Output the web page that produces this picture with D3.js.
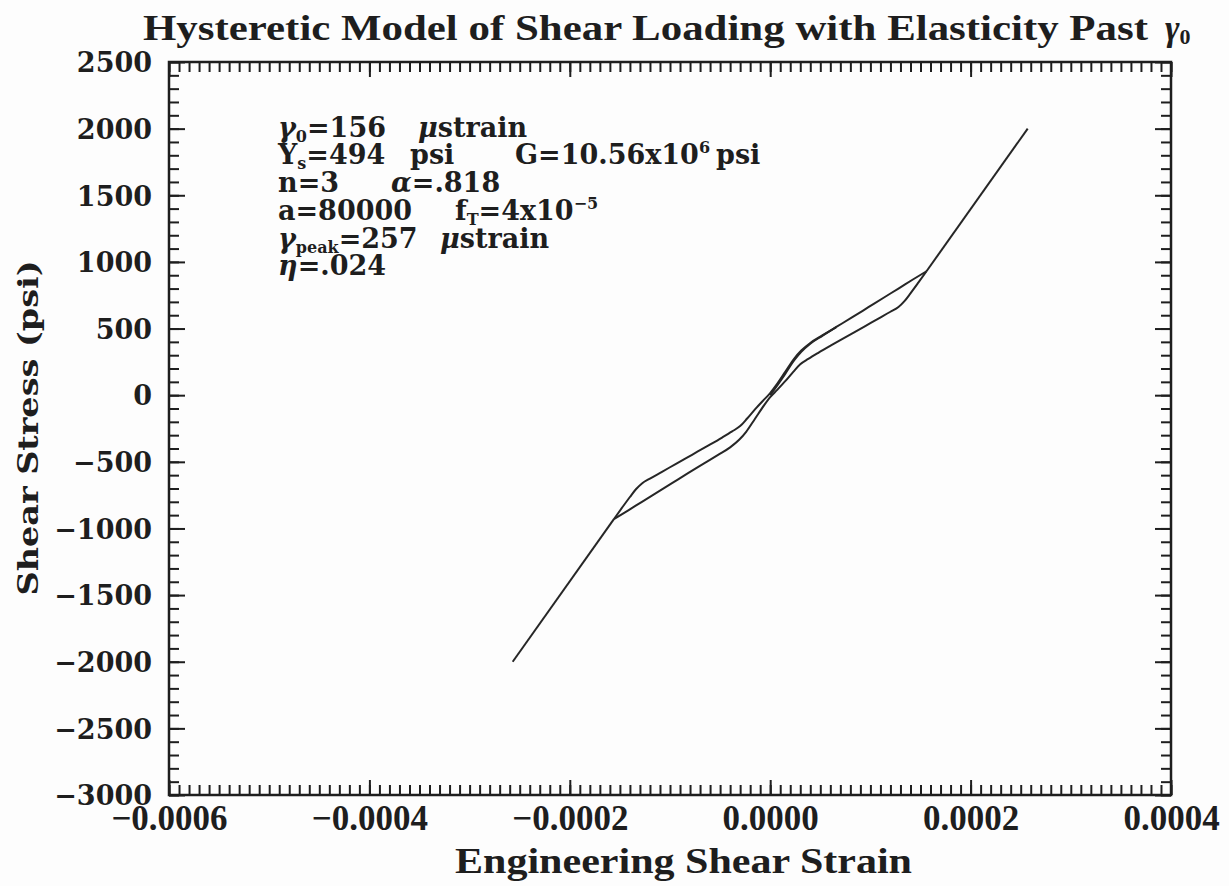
<!DOCTYPE html>
<html>
<head>
<meta charset="utf-8">
<script src="https://cdn.jsdelivr.net/npm/d3@7"></script>
<style>
body { margin: 0; background: #fff; }
svg { display: block; }
.num { font-family: "DejaVu Serif", serif; font-weight: bold; font-size: 27px; fill: #1e1e1e; }
.cond { font-family: "Liberation Serif", "Times New Roman", serif; font-weight: bold; font-size: 35px; fill: #1e1e1e; }
.axis path.domain { display: none; }
.axis line { stroke: #1e1e1e; stroke-width: 2; }
</style>
</head>
<body>
<div id="chart"></div>
<script>
// tick labels
var strainTicks = [-0.0006, -0.0004, -0.0002, 0, 0.0002, 0.0004];
var stressTicks = [2500, 2000, 1500, 1000, 500, 0, -500, -1000, -1500, -2000, -2500, -3000];

// curve, strain in microstrain, stress in psi
var lowerTail = [[-257, -2000], [-156, -930]];
var upperTail = [[156, 930], [257, 2000]];

// reloading branch, -gamma0 -> +gamma0
var loadingBranch = [
	[-156, -930], [-148, -846], [-140, -764], [-134, -706], [-128, -662], [-120, -626],
	[-108, -575], [-94, -515], [-78, -447], [-62, -379], [-48, -318], [-38, -272],
	[-30, -232], [-23, -175], [-15, -105], [-7, -40], [0, 15], [6, 75], [15, 175],
	[24, 275], [31, 335], [40, 392], [52, 448], [66, 512], [82, 585], [98, 660],
	[114, 735], [128, 800], [142, 866], [156, 930]
];

// unloading branch, stored left to right
var unloadingBranch = [
	[-156, -930], [-142, -866], [-128, -800], [-114, -735], [-98, -660], [-82, -585],
	[-66, -512], [-52, -448], [-40, -392], [-31, -335], [-24, -275], [-15, -175],
	[-6, -75], [0, -15], [7, 40], [15, 105], [23, 175], [30, 232], [38, 272],
	[48, 318], [62, 379], [78, 447], [94, 515], [108, 575], [120, 626], [128, 662],
	[134, 706], [140, 764], [148, 846], [156, 930]
];

// first loading from rest
var initialBranch = [[0, 0], [6, 62], [15, 160], [24, 262], [31, 325], [40, 386], [52, 445], [66, 510]];

var W = 1229, H = 886;
var pLeft = 169, pRight = 1171, pTop = 62, pBottom = 795;

var svg = d3.select("#chart").append("svg")
	.attr("width", W)
	.attr("height", H);

svg.append("rect").attr("width", W).attr("height", H).attr("fill", "#fdfdfd");

var x = d3.scaleLinear().domain([-0.0006, 0.0004]).range([pLeft, pRight]);
var y = d3.scaleLinear().domain([-3000, 2500]).range([pBottom, pTop]);

function fmtX(d) {
	if (d === 0) return "0.0000";
	return (d < 0 ? "\u2212" : "") + Math.abs(d).toFixed(4);
}
function fmtY(d) {
	return (d < 0 ? "\u2212" : "") + Math.abs(d);
}

// minor ticks (inward)
svg.append("g").attr("class", "axis")
	.attr("transform", "translate(0," + pBottom + ")")
	.call(d3.axisBottom(x).ticks(100).tickSize(-10).tickFormat(""));
svg.append("g").attr("class", "axis")
	.attr("transform", "translate(0," + pTop + ")")
	.call(d3.axisTop(x).ticks(100).tickSize(-10).tickFormat(""));
svg.append("g").attr("class", "axis")
	.attr("transform", "translate(" + pLeft + ",0)")
	.call(d3.axisLeft(y).ticks(55).tickSize(-10).tickFormat(""));
svg.append("g").attr("class", "axis")
	.attr("transform", "translate(" + pRight + ",0)")
	.call(d3.axisRight(y).ticks(55).tickSize(-10).tickFormat(""));

// major ticks
var xb = svg.append("g").attr("class", "axis")
	.attr("transform", "translate(0," + pBottom + ")")
	.call(d3.axisBottom(x).tickValues(strainTicks).tickSize(-15).tickPadding(10).tickFormat(fmtX));
xb.selectAll("text").attr("class", "cond").attr("fill", null).attr("dy", null).attr("y", 35);

svg.append("g").attr("class", "axis")
	.attr("transform", "translate(0," + pTop + ")")
	.call(d3.axisTop(x).tickValues(strainTicks).tickSize(-15).tickFormat(""));

var yl = svg.append("g").attr("class", "axis")
	.attr("transform", "translate(" + pLeft + ",0)")
	.call(d3.axisLeft(y).tickValues(stressTicks).tickSize(-16).tickPadding(17).tickFormat(fmtY));
yl.selectAll("text").attr("class", "num").attr("fill", null).attr("x", -17).attr("dy", "0.36em");

svg.append("g").attr("class", "axis")
	.attr("transform", "translate(" + pRight + ",0)")
	.call(d3.axisRight(y).tickValues(stressTicks).tickSize(-16).tickFormat(""));

// frame
svg.append("rect")
	.attr("x", pLeft).attr("y", pTop)
	.attr("width", pRight - pLeft).attr("height", pBottom - pTop)
	.attr("fill", "none").attr("stroke", "#1e1e1e").attr("stroke-width", 2.5);

// curve
var smooth = d3.line()
	.x(function(d) { return x(d[0] * 1e-6); })
	.y(function(d) { return y(d[1]); })
	.curve(d3.curveMonotoneX);
var straight = d3.line()
	.x(function(d) { return x(d[0] * 1e-6); })
	.y(function(d) { return y(d[1]); });

var curves = svg.append("g").attr("fill", "none").attr("stroke", "#262626").attr("stroke-width", 2);
curves.append("path").attr("d", straight(lowerTail));
curves.append("path").attr("d", straight(upperTail));
curves.append("path").attr("d", smooth(loadingBranch));
curves.append("path").attr("d", smooth(unloadingBranch));
curves.append("path").attr("d", smooth(initialBranch));

// title
var title = svg.append("text").attr("class", "cond").attr("y", 40);
title.append("tspan").attr("x", 143)
	.attr("textLength", 1005).attr("lengthAdjust", "spacingAndGlyphs")
	.text("Hysteretic Model of Shear Loading with Elasticity Past");
title.append("tspan").attr("x", 1165).attr("font-style", "italic").text("\u03b3");
title.append("tspan").attr("font-size", "22px").attr("dy", 4).text("0");

// axis titles
svg.append("text").attr("class", "cond")
	.attr("x", 455).attr("y", 873)
	.attr("textLength", 457).attr("lengthAdjust", "spacingAndGlyphs")
	.text("Engineering Shear Strain");

svg.append("text").attr("class", "num")
	.attr("font-size", "28px")
	.attr("transform", "translate(38,428) rotate(-90)")
	.attr("text-anchor", "middle")
	.attr("textLength", 335).attr("lengthAdjust", "spacingAndGlyphs")
	.text("Shear Stress (psi)");

// parameter block
var ann = svg.append("g").attr("class", "num");
function addLine(yy, parts) {
	var t = ann.append("text").attr("y", yy);
	parts.forEach(function(p) {
		var s = t.append("tspan").text(p.t);
		if (p.x !== undefined) s.attr("x", p.x);
		if (p.it) s.attr("font-style", "italic");
		if (p.sub) s.attr("font-size", "16px").attr("dy", 5);
		if (p.sup) s.attr("font-size", "16px").attr("dy", -11);
		if (p.back) s.attr("dy", p.back);
	});
}
addLine(137, [{t: "\u03b3", x: 278, it: 1}, {t: "0", sub: 1}, {t: "=156", back: -5}, {t: "\u03bc", x: 418, it: 1}, {t: "strain"}]);
addLine(164, [{t: "Y", x: 278}, {t: "s", sub: 1}, {t: "=494", back: -5}, {t: "psi", x: 410},
	{t: "G=10.56x10", x: 515}, {t: "6", sup: 1}, {t: "psi", x: 716, back: 11}]);
addLine(192, [{t: "n=3", x: 278}, {t: "\u03b1", x: 391, it: 1}, {t: "=.818"}]);
addLine(220, [{t: "a=80000", x: 278}, {t: "f", x: 455}, {t: "T", sub: 1}, {t: "=4x10", back: -5}, {t: "\u22125", sup: 1}]);
addLine(248, [{t: "\u03b3", x: 278, it: 1}, {t: "peak", sub: 1}, {t: "=257", back: -5}, {t: "\u03bc", x: 440, it: 1}, {t: "strain"}]);
addLine(275, [{t: "\u03b7", x: 278, it: 1}, {t: "=.024"}]);
</script>
</body>
</html>
